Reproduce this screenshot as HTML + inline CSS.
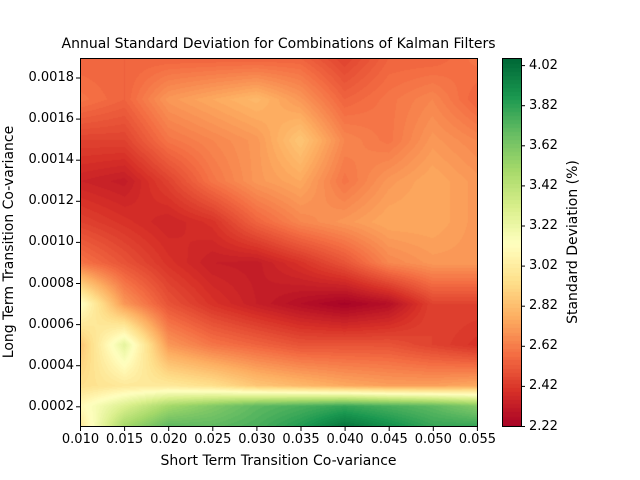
<!DOCTYPE html>
<html><head><meta charset="utf-8"><style>
body{margin:0;background:#fff;width:640px;height:480px;overflow:hidden;position:relative;font-family:"DejaVu Sans","Liberation Sans",sans-serif;color:#000}
.t{position:absolute;font-size:13px;white-space:nowrap}
.a{font-size:14px}
canvas{position:absolute}
</style></head><body>
<canvas id="c" width="397" height="369" style="left:80px;top:58px"></canvas>
<canvas id="cb" width="19" height="369" style="left:502px;top:58px"></canvas>
<svg width="640" height="480" style="position:absolute;left:0;top:0">
<rect x="80.5" y="58.5" width="397" height="368" fill="none" stroke="#000" stroke-width="1"/>
<rect x="502.5" y="58.5" width="19" height="368" fill="none" stroke="#000" stroke-width="1"/>
<g stroke="#000" id="ticks"></g>
</svg>
<div class="t a" style="left:0;width:557px;text-align:center;top:36px">Annual Standard Deviation for Combinations of Kalman Filters</div>
<div class="t a" style="left:80px;width:397px;text-align:center;top:453px">Short Term Transition Co-variance</div>
<div class="t a" style="left:9px;top:242px;transform:translate(-50%,-50%) rotate(-90deg)">Long Term Transition Co-variance</div>
<div class="t a" style="left:573px;top:242px;transform:translate(-50%,-50%) rotate(-90deg)">Standard Deviation (%)</div>
<div id="labs"></div>
<script>
var ys=[0.0019,0.0017,0.0015,0.0013,0.0011,0.0009,0.0007,0.0005,0.0003,0.0002,0.0001];
var V=[
[2.55,2.55,2.55,2.55,2.55,2.55,2.45,2.55,2.55,2.6],
[2.6,2.55,2.7,2.75,2.8,2.7,2.55,2.6,2.65,2.55],
[2.45,2.45,2.6,2.65,2.7,2.85,2.65,2.6,2.7,2.65],
[2.35,2.32,2.45,2.6,2.7,2.75,2.6,2.7,2.75,2.7],
[2.45,2.4,2.35,2.4,2.55,2.65,2.7,2.75,2.75,2.7],
[2.6,2.5,2.4,2.33,2.32,2.4,2.5,2.65,2.7,2.7],
[3.15,2.7,2.5,2.4,2.33,2.27,2.22,2.27,2.45,2.45],
[2.85,3.25,2.7,2.6,2.55,2.5,2.5,2.5,2.45,2.4],
[2.95,3.0,3.0,2.95,2.85,2.8,2.75,2.72,2.72,2.75],
[3.1,3.3,3.5,3.6,3.7,3.75,3.8,3.75,3.7,3.6],
[3.0,3.5,3.7,3.7,3.75,3.85,4.0,3.9,3.8,3.8]];
var S=[[0,165,0,38],[.1,215,48,39],[.2,244,109,67],[.3,253,174,97],[.4,254,224,139],[.5,255,255,191],[.6,217,239,139],[.7,166,217,106],[.8,102,189,99],[.9,26,152,80],[1,0,104,55]];
var vmin=2.22,vmax=4.06;
function cm(v){var t=(v-vmin)/(vmax-vmin);t=Math.max(0,Math.min(1,t));for(var i=0;i<10;i++){if(t<=S[i+1][0]){var f=(t-S[i][0])/0.1;return [S[i][1]+f*(S[i+1][1]-S[i][1]),S[i][2]+f*(S[i+1][2]-S[i][2]),S[i][3]+f*(S[i+1][3]-S[i][3])];}}return [0,104,55];}
function q(v){return Math.round((v-2.22)/0.02)*0.02+2.22+0.01;}
var c=document.getElementById('c').getContext('2d'),W=397,H=369,img=c.createImageData(W,H);
for(var py=0;py<H;py++){var yv=0.0019-(py/(H-1))*0.0018;var r=0;while(r<ys.length-2&&yv<ys[r+1])r++;var fy=(ys[r]-yv)/(ys[r]-ys[r+1]);fy=Math.max(0,Math.min(1,fy));
for(var px=0;px<W;px++){var xv=px/(W-1)*9;var ci=Math.min(8,Math.floor(xv)),fx=xv-ci;
var v=(V[r][ci]*(1-fx)+V[r][ci+1]*fx)*(1-fy)+(V[r+1][ci]*(1-fx)+V[r+1][ci+1]*fx)*fy;
var col=cm(q(v)),k=(py*W+px)*4;img.data[k]=col[0];img.data[k+1]=col[1];img.data[k+2]=col[2];img.data[k+3]=255;}}
c.putImageData(img,0,0);
var cb=document.getElementById('cb').getContext('2d');
for(var py=0;py<369;py++){var v=vmax-(py/368)*(vmax-vmin);var col=cm(q(v));cb.fillStyle='rgb('+col.map(Math.round).join(',')+')';cb.fillRect(0,py,19,1);}
var g=document.getElementById('ticks'),L=document.getElementById('labs'),s='',h='';
var xl=['0.010','0.015','0.020','0.025','0.030','0.035','0.040','0.045','0.050','0.055'];
for(var i=0;i<10;i++){var x=80.5+i*44.1;s+='<line x1="'+x+'" x2="'+x+'" y1="427" y2="431"/>';h+='<div class="t" style="left:'+(x-30)+'px;width:60px;text-align:center;top:432px">'+xl[i]+'</div>';}
var yl=['0.0002','0.0004','0.0006','0.0008','0.0010','0.0012','0.0014','0.0016','0.0018'];
for(var i=0;i<9;i++){var y=406.8-i*41.1;s+='<line x1="76" x2="80" y1="'+y+'" y2="'+y+'"/>';h+='<div class="t" style="right:566px;top:'+(y-8)+'px">'+yl[i]+'</div>';}
for(var i=0;i<10;i++){var y=426.5-i*40.1;s+='<line x1="521" x2="525" y1="'+y+'" y2="'+y+'"/>';h+='<div class="t" style="left:529px;top:'+(y-8)+'px">'+(2.22+i*0.2).toFixed(2)+'</div>';}
g.innerHTML=s;L.innerHTML=h;
</script>
</body></html>
